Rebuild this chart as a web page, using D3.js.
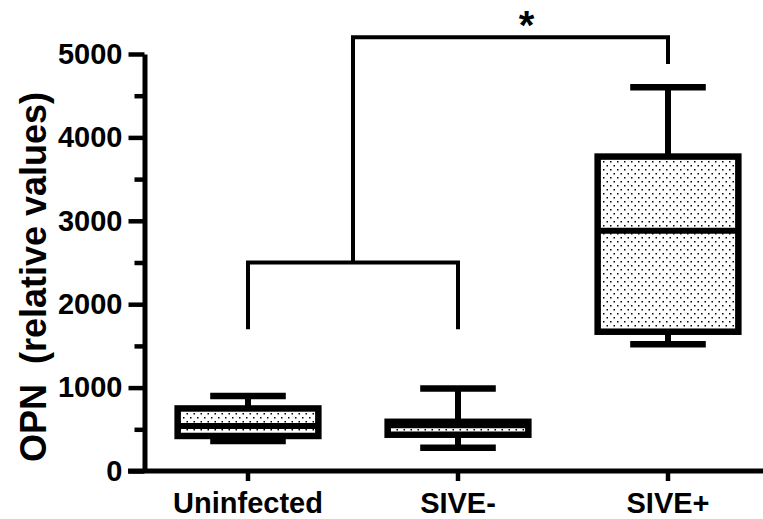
<!DOCTYPE html>
<html>
<head>
<script src='https://d3js.org/d3.v7.min.js'></script>
<style>
body {margin:0; background-color:white;}
text {font-family:'Liberation Sans', Arial, sans-serif; font-weight:bold; fill:black;}
</style>
</head>
<body>
<svg width=763 height=519></svg>

<script>
var categories = ['Uninfected','SIVE-','SIVE+']
var mins    = [360, 280, 1520]
var q1s     = [420, 435, 1670]
var medians = [540, 550, 2880]
var q3s     = [750, 590, 3770]
var maxs    = [900, 990, 4600]
var yTicks = [0,1000,2000,3000,4000,5000]
var yMinor = [500,1500,2500,3500,4500]

// bracket levels (values on the y scale)
var lowBracket = 2500, lowLegs = 1700
var topBracket = 5200, topLeg = 4880

var svg = d3.select('svg')

var x = d3.scaleBand().domain(categories).range([143,773])
var y = d3.scaleLinear().domain([0,5000]).range([471,54])
var bw = x.bandwidth()
function cx(c) {return x(c)+bw/2}

// dot pattern for the boxes
var pat = svg.append('defs').append('pattern')
    .attr('id','dots')
    .attr('patternUnits','userSpaceOnUse')
    .attr('width',7).attr('height',8)
pat.append('rect').attr('width',7).attr('height',8).attr('fill','white')
pat.append('rect').attr('x',1).attr('y',1).attr('width',1.5).attr('height',1.5).attr('fill','#000')
pat.append('rect').attr('x',4.5).attr('y',5).attr('width',1.5).attr('height',1.5).attr('fill','#000')

var boxW = bw*0.67
var capW = bw*0.36

var g = svg.append('g')

categories.forEach(function(c,i) {
  // whisker
  g.append('line')
    .attr('x1',cx(c)).attr('x2',cx(c))
    .attr('y1',y(mins[i])).attr('y2',y(maxs[i]))
    .attr('stroke','black').attr('stroke-width',6)
  // caps
  ;[mins[i],maxs[i]].forEach(function(v) {
    g.append('line')
      .attr('x1',cx(c)-capW/2).attr('x2',cx(c)+capW/2)
      .attr('y1',y(v)).attr('y2',y(v))
      .attr('stroke','black').attr('stroke-width',6.5)
  })
  // box
  g.append('rect')
    .attr('x',cx(c)-boxW/2)
    .attr('y',y(q3s[i]))
    .attr('width',boxW)
    .attr('height',y(q1s[i])-y(q3s[i]))
    .attr('fill','url(#dots)')
    .attr('stroke','black').attr('stroke-width',6.5)
  // median
  g.append('line')
    .attr('x1',cx(c)-boxW/2).attr('x2',cx(c)+boxW/2)
    .attr('y1',y(medians[i])).attr('y2',y(medians[i]))
    .attr('stroke','black').attr('stroke-width',6)
})

// significance brackets
var b1 = cx(categories[0]), b2 = cx(categories[1]), b3 = cx(categories[2])
var bmid = (b1+b2)/2
g.append('path')
  .attr('d','M'+b1+','+y(lowLegs)+'V'+y(lowBracket)+'H'+b2+'V'+y(lowLegs))
  .attr('fill','none').attr('stroke','black').attr('stroke-width',4)
g.append('path')
  .attr('d','M'+bmid+','+y(lowBracket)+'V'+y(topBracket)+'H'+b3+'V'+y(topLeg))
  .attr('fill','none').attr('stroke','black').attr('stroke-width',4)
svg.append('text')
  .attr('x',(bmid+b3)/2+16)
  .attr('y',y(topBracket)+2)
  .attr('text-anchor','middle')
  .style('font-size','40px')
  .text('*')

// y axis
var yAxis = svg.append('g')
  .attr('transform','translate(144.5,0)')
  .call(d3.axisLeft(y).tickValues(yTicks).tickFormat(d3.format('d')).tickSize(16).tickSizeOuter(0).tickPadding(6))
yAxis.selectAll('text').style('font-size','29px')
yAxis.select('.domain').attr('stroke-width',5)
yAxis.selectAll('.tick line').attr('stroke-width',4.5)

var yMinorAxis = svg.append('g')
  .attr('transform','translate(144.5,0)')
  .call(d3.axisLeft(y).tickValues(yMinor).tickSize(10).tickFormat(''))
yMinorAxis.select('.domain').remove()
yMinorAxis.selectAll('.tick line').attr('stroke-width',4.5)

// x axis
var xAxis = svg.append('g')
  .attr('transform','translate(0,'+y(0)+')')
  .call(d3.axisBottom(x).tickSize(10).tickPadding(11))
xAxis.select('.domain').remove()
xAxis.selectAll('.tick line').attr('stroke-width',4.5)
xAxis.selectAll('text').style('font-size','29px')
svg.append('line')
  .attr('x1',128).attr('x2',763)
  .attr('y1',y(0)).attr('y2',y(0))
  .attr('stroke','black').attr('stroke-width',5)

// y label
svg.append('text')
  .attr('transform','rotate(-90)')
  .attr('x',-277)
  .attr('y',46)
  .attr('text-anchor','middle')
  .style('font-size','36px')
  .style('white-space','pre')
  .text('OPN  (relative values)')
</script>
</body>
</html>
